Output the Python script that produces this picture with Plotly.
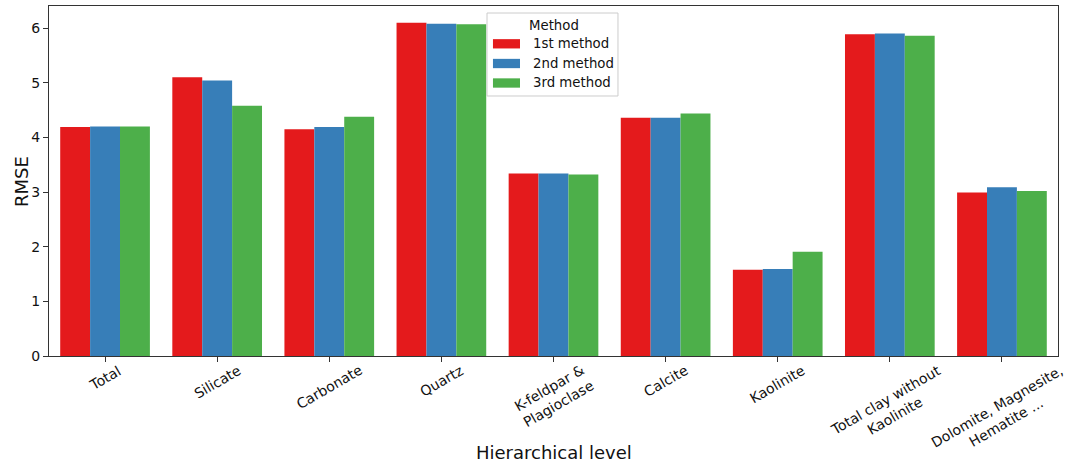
import plotly.graph_objects as go

categories = ["Total", "Silicate", "Carbonate", "Quartz", "K-feldpar &<br>Plagioclase",
              "Calcite", "Kaolinite", "Total clay without<br>Kaolinite",
              "Dolomite, Magnesite,<br>Hematite ..."]
method_names = ["1st method", "2nd method", "3rd method"]
rmse_1st = [4.19, 5.10, 4.15, 6.10, 3.34, 4.36, 1.58, 5.89, 2.99]
rmse_2nd = [4.20, 5.04, 4.19, 6.08, 3.34, 4.36, 1.59, 5.90, 3.09]
rmse_3rd = [4.20, 4.58, 4.38, 6.07, 3.32, 4.44, 1.91, 5.86, 3.02]
colors = ["#e41a1c", "#377eb8", "#4daf4a"]

FONT = "DejaVu Sans"
TEXT = "#111111"
AXIS = "#333333"
TICK_SIZE = 14

fig = go.Figure()
for name, vals, col in zip(method_names, [rmse_1st, rmse_2nd, rmse_3rd], colors):
    fig.add_trace(go.Bar(
        x=list(range(len(categories))), y=vals, name=name,
        marker=dict(color=col, line=dict(width=0)),
        showlegend=False,
    ))

# rotated, centred category labels beneath each tick
for i, lab in enumerate(categories):
    fig.add_annotation(
        x=i, y=-0.01, xref="x", yref="paper", text=lab, showarrow=False,
        textangle=-30, xanchor="center", yanchor="top", align="center",
        font=dict(family=FONT, size=TICK_SIZE, color=TEXT),
    )

# axis titles
fig.add_annotation(
    x=0.5, y=-0.2743, xref="paper", yref="paper", text="Hierarchical level",
    showarrow=False, xanchor="center", yanchor="middle",
    font=dict(family=FONT, size=18, color=TEXT),
)
fig.add_annotation(
    x=-0.0278, y=0.5, xref="paper", yref="paper", text="RMSE",
    showarrow=False, xanchor="center", yanchor="middle", textangle=-90,
    font=dict(family=FONT, size=18, color=TEXT),
)

# legend box with wide colour patches
lx0, lx1, ly0, ly1 = 0.4341, 0.5639, 0.7429, 0.98
fig.add_shape(type="rect", xref="paper", yref="paper", x0=lx0, x1=lx1, y0=ly0, y1=ly1,
              fillcolor="rgba(255,255,255,0.8)", line=dict(color="#cccccc", width=1))
fig.add_annotation(x=0.5, y=0.944, xref="paper", yref="paper", text="Method",
                   showarrow=False, xanchor="center", yanchor="middle",
                   font=dict(family=FONT, size=13.3, color=TEXT))
row_y = [0.892, 0.8357, 0.780]
for name, col, ry in zip(method_names, colors, row_y):
    fig.add_shape(type="rect", xref="paper", yref="paper",
                  x0=0.4400, x1=0.4668, y0=ry - 0.0133, y1=ry + 0.0133,
                  fillcolor=col, line=dict(width=0))
    fig.add_annotation(x=0.4777, y=ry, xref="paper", yref="paper", text=name,
                       showarrow=False, xanchor="left", yanchor="middle",
                       font=dict(family=FONT, size=13.3, color=TEXT))

fig.update_layout(
    width=1065, height=462,
    margin=dict(l=49, r=7, t=6, b=106),
    paper_bgcolor="white", plot_bgcolor="white",
    barmode="group", bargap=0.2, bargroupgap=0,
    font=dict(family=FONT, size=14, color=TEXT),
    showlegend=False,
    xaxis=dict(
        range=[-0.5, len(categories) - 0.5],
        tickmode="array", tickvals=list(range(len(categories))),
        showticklabels=False, ticks="outside", ticklen=5, tickcolor=AXIS,
        showline=True, linecolor=AXIS, linewidth=1, mirror=True,
        showgrid=False, zeroline=False,
    ),
    yaxis=dict(
        range=[0, 6.405], tickmode="linear", tick0=0, dtick=1,
        ticks="outside", ticklen=5, tickcolor=AXIS,
        tickfont=dict(family=FONT, size=14, color=TEXT),
        showline=True, linecolor=AXIS, linewidth=1, mirror=True,
        showgrid=False, zeroline=False,
    ),
)

fig.write_html("out.html")
